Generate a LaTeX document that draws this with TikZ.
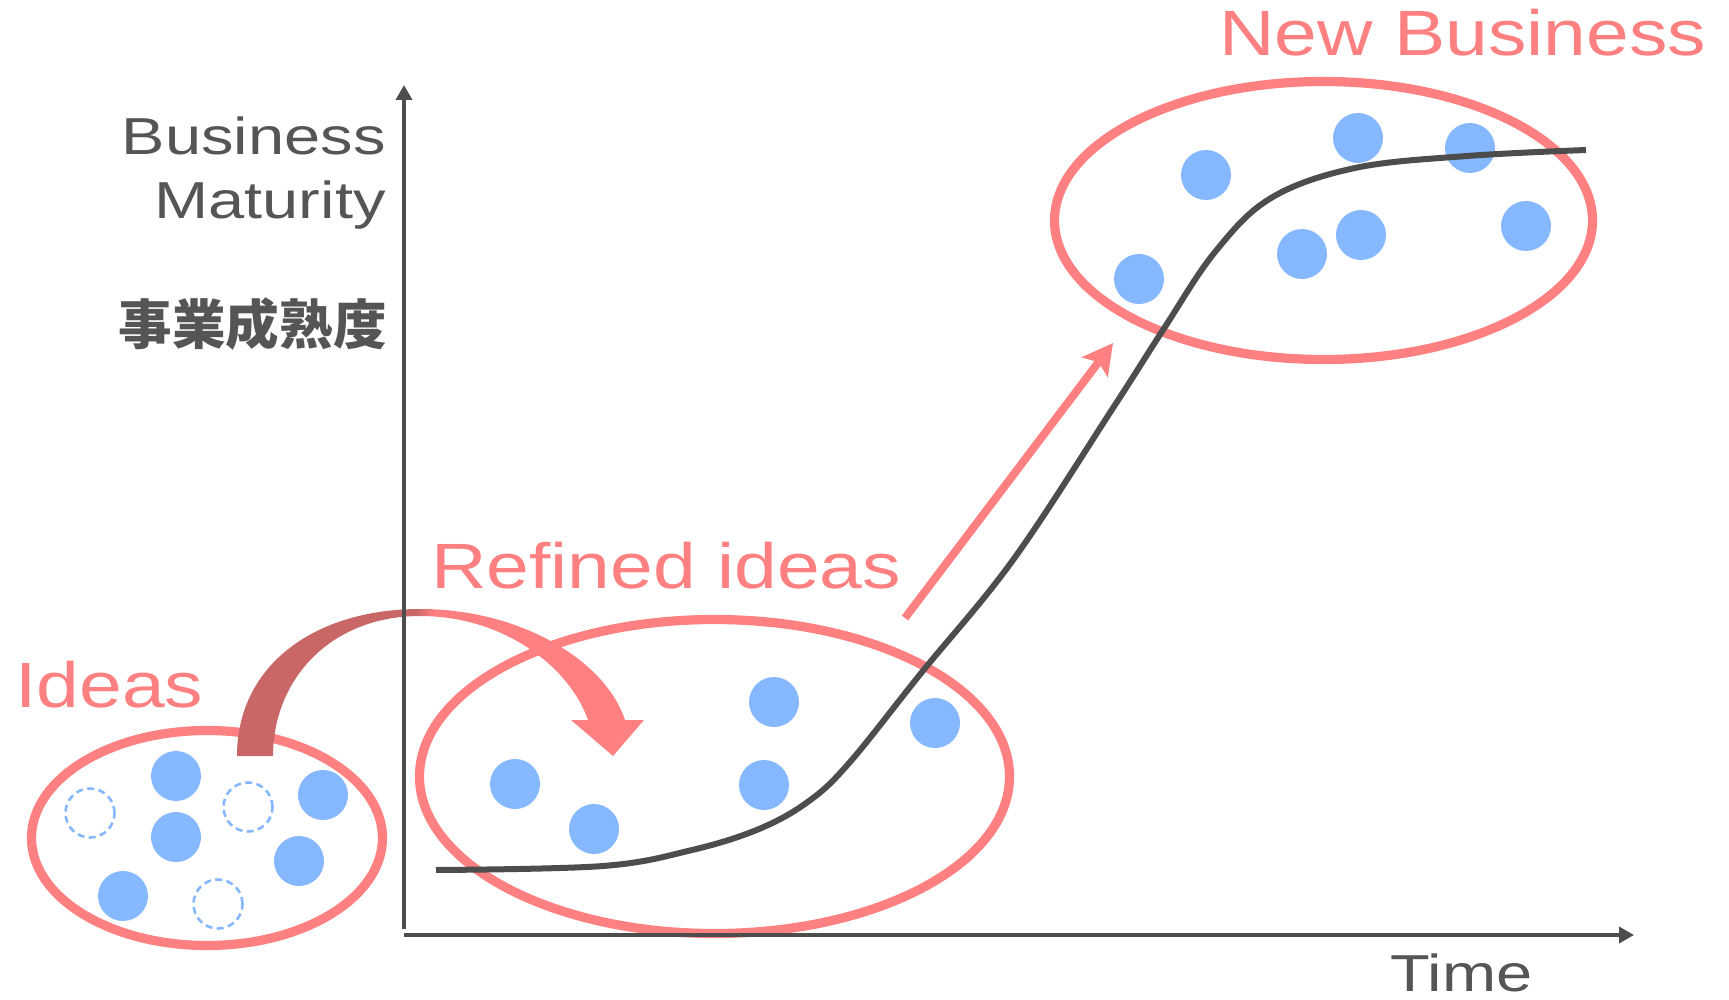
\documentclass[tikz,border=0pt]{standalone}
\usepackage{fontspec}
\newfontfamily\latinfont{Liberation Sans}[FakeStretch=1.2]
\newfontfamily\axisfont{Liberation Sans}[FakeStretch=1.25]
\newfontfamily\cjkfont{Noto Sans CJK JP}
\usetikzlibrary{shapes.geometric,arrows.meta}
\definecolor{pinkline}{RGB}{255,128,128}
\definecolor{darkpink}{RGB}{201,102,102}
\definecolor{dotblue}{RGB}{133,184,255}
\definecolor{axisgray}{RGB}{77,77,77}
\definecolor{textgray}{RGB}{85,85,85}
\pgfdeclarehorizontalshading{bendshade}{100bp}{color(0bp)=(darkpink); color(48bp)=(darkpink); color(50.5bp)=(pinkline); color(100bp)=(pinkline)}

\begin{document}
\begin{tikzpicture}[x=0.5pt,y=-0.5pt]
\tikzstyle{groupring}=[draw=pinkline,line width=4.6pt,ellipse,inner sep=0pt]
\tikzstyle{bluedot}=[circle,fill=dotblue,minimum size=25pt,inner sep=0pt]
\tikzstyle{ghostdot}=[circle,draw=dotblue,line width=1.3pt,dash pattern=on 3.5pt off 2.2pt,minimum size=24.5pt,inner sep=0pt]
\tikzstyle{grouplabel}=[text=pinkline,font=\latinfont\fontsize{32}{38}\selectfont,inner sep=0pt]
\tikzstyle{axislabel}=[text=textgray,font=\axisfont\fontsize{26}{32}\selectfont,inner sep=0pt,text depth=0pt]
\tikzstyle{axisline}=[draw=axisgray,line width=1.75pt,-{Triangle[length=7.5pt,width=8pt]}]
\tikzstyle{growth}=[draw=axisgray,line width=3pt]
\useasboundingbox (0,0) rectangle (1729,1000);
% groups
\node[groupring,minimum width=175.5pt,minimum height=107.5pt] (ideas) at (207,838) {};
\node[groupring,minimum width=295pt,minimum height=157pt] (refined) at (714.5,776.5) {};
\node[groupring,minimum width=269pt,minimum height=139pt] (newbiz) at (1323.5,220.5) {};
% ideas
\node[bluedot] (i1) at (176,776) {};
\node[bluedot] (i2) at (176,837) {};
\node[bluedot] (i3) at (323,795) {};
\node[bluedot] (i4) at (299,861) {};
\node[bluedot] (i5) at (123,896) {};
\node[ghostdot] (g1) at (90,813) {};
\node[ghostdot] (g2) at (248,807) {};
\node[ghostdot] (g3) at (218,904) {};
% refined ideas
\node[bluedot] (r1) at (515,784) {};
\node[bluedot] (r2) at (594,829) {};
\node[bluedot] (r3) at (774,702) {};
\node[bluedot] (r4) at (764,785) {};
\node[bluedot] (r5) at (935,723) {};
% new business
\node[bluedot] (n1) at (1206,175) {};
\node[bluedot] (n2) at (1358,138) {};
\node[bluedot] (n3) at (1470,148) {};
\node[bluedot] (n4) at (1139,279) {};
\node[bluedot] (n5) at (1302,254) {};
\node[bluedot] (n6) at (1361,235) {};
\node[bluedot] (n7) at (1526,226) {};
% growth curve
\draw[growth] plot[smooth,tension=0.6] coordinates {(436,870) (603,866) (692,850) (759,829) (809,801) (850,762) (922,672) (1013,560) (1113,408) (1163,330) (1215,252) (1271,198) (1355,168) (1467,156) (1586,150)};
% rise arrow
\coordinate (risefrom) at (905,618);
\coordinate (riseto) at (1113,343);
\draw[pinkline,line width=4pt,-{Stealth[length=15pt,width=16pt,inset=3pt]}] (risefrom) -- (riseto);
% bent arrow
\shade[shading=bendshade] (237,756) .. controls (237,665) and (315,609) .. (420,609) .. controls (520,609) and (605,660) .. (625,720) -- (588,720) .. controls (570,668) and (505,616) .. (420,616) .. controls (330,616) and (273,680) .. (273,756) -- cycle;
\fill[pinkline] (571,720) -- (644,720) -- (613,756) -- cycle;
% axes
\coordinate (origin) at (404,929);
\draw[axisline] (origin) -- (404,85);
\draw[axisline] (404,935) -- (1634,935);
% labels
\node[axislabel,anchor=base east] (yl1) at (386,155) {Business};
\node[axislabel,anchor=base east] (yl2) at (386,219) {Maturity};
\node[text=textgray,font=\cjkfont\bfseries\fontsize{26.8}{30}\selectfont,inner sep=0pt,anchor=base east] (yl3) at (387,344) {事業成熟度};
\node[axislabel,anchor=base west] (xl) at (1390,991) {Time};
\node[grouplabel,anchor=base west] (ideaslabel) at (15,707) {Ideas};
\node[grouplabel,anchor=base west] (refinedlabel) at (431,588) {Refined ideas};
\node[grouplabel,anchor=base west] (newbizlabel) at (1219,56) {New Business};
\end{tikzpicture}
\end{document}
